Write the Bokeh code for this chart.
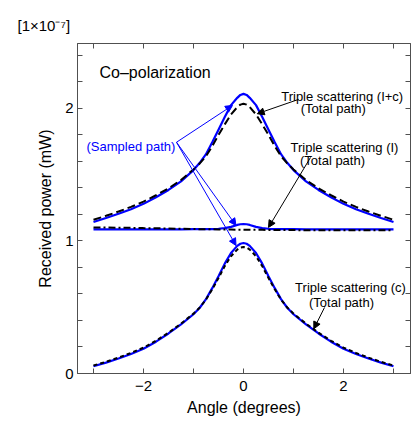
from bokeh.plotting import figure
from bokeh.models import (Range1d, LinearAxis, FixedTicker, Label, Arrow,
                          NormalHead, CustomJSTickFormatter)
from bokeh.embed import file_html
from bokeh.resources import INLINE

# ---- data ----
angle = [-3, -2.75, -2.5, -2.25, -2, -1.75, -1.5, -1.25, -1, -0.875, -0.75,
         -0.625, -0.5, -0.375, -0.25, -0.125, -0.0625, 0, 0.0625, 0.125, 0.25,
         0.375, 0.5, 0.625, 0.75, 0.875, 1, 1.25, 1.5, 1.75, 2, 2.25, 2.5,
         2.75, 3]

# Triple scattering (I+c)
ic_sampled = [1.143, 1.173, 1.205, 1.240, 1.280, 1.330, 1.385, 1.450, 1.535,
              1.590, 1.655, 1.745, 1.840, 1.935, 2.025, 2.080, 2.102, 2.110,
              2.102, 2.080, 2.025, 1.935, 1.840, 1.745, 1.655, 1.590, 1.535,
              1.450, 1.385, 1.330, 1.280, 1.240, 1.205, 1.173, 1.143]
ic_total = [1.160, 1.190, 1.222, 1.257, 1.297, 1.345, 1.397, 1.460, 1.540,
            1.585, 1.640, 1.715, 1.800, 1.880, 1.955, 2.010, 2.029, 2.035,
            2.029, 2.010, 1.955, 1.880, 1.800, 1.715, 1.640, 1.585, 1.540,
            1.460, 1.397, 1.345, 1.297, 1.257, 1.222, 1.190, 1.160]

# Triple scattering (I)
i_sampled = [1.088, 1.088, 1.088, 1.088, 1.088, 1.088, 1.088, 1.088, 1.089,
             1.089, 1.090, 1.090, 1.092, 1.097, 1.106, 1.121, 1.126, 1.128,
             1.126, 1.121, 1.106, 1.097, 1.092, 1.090, 1.090, 1.089, 1.089,
             1.088, 1.088, 1.088, 1.088, 1.088, 1.088, 1.088, 1.088]
i_total = [1.102, 1.101, 1.100, 1.099, 1.097, 1.096, 1.094, 1.092, 1.090,
           1.089, 1.088, 1.088, 1.087, 1.086, 1.086, 1.085, 1.085, 1.085,
           1.085, 1.085, 1.084, 1.084, 1.083, 1.083, 1.083, 1.082, 1.082,
           1.081, 1.081, 1.080, 1.080, 1.080, 1.080, 1.080, 1.080]

# Triple scattering (c)
c_sampled = [0.055, 0.082, 0.113, 0.147, 0.187, 0.240, 0.302, 0.370, 0.447,
             0.496, 0.561, 0.644, 0.733, 0.829, 0.909, 0.963, 0.979, 0.985,
             0.979, 0.963, 0.909, 0.829, 0.733, 0.644, 0.561, 0.496, 0.447,
             0.370, 0.302, 0.240, 0.187, 0.147, 0.113, 0.082, 0.055]
c_total = [0.060, 0.088, 0.120, 0.155, 0.195, 0.247, 0.308, 0.376, 0.452,
           0.498, 0.558, 0.635, 0.720, 0.810, 0.885, 0.935, 0.950, 0.955,
           0.950, 0.935, 0.885, 0.810, 0.720, 0.635, 0.558, 0.498, 0.452,
           0.376, 0.308, 0.247, 0.195, 0.155, 0.120, 0.088, 0.060]

x_major = [-2, 0, 2]
x_minor = [-3, -1, 1, 3]
x_all = [-3, -2, -1, 0, 1, 2, 3]
y_major = [0, 1, 2]
y_minor = [0.2, 0.4, 0.6, 0.8, 1.2, 1.4, 1.6, 1.8, 2.2, 2.4]
y_all = [0, 0.2, 0.4, 0.6, 0.8, 1.0, 1.2, 1.4, 1.6, 1.8, 2.0, 2.2, 2.4]

FONT = "Liberation Sans"
AX = "#505050"
BLUE = "#0000ff"

p = figure(width=414, height=421, output_backend="svg", toolbar_location=None,
           x_range=Range1d(-3.32, 3.34), y_range=Range1d(0, 2.49),
           min_border_left=77, min_border_right=4, min_border_top=43,
           min_border_bottom=48)
p.grid.visible = False
p.outline_line_color = AX
p.background_fill_color = "white"
p.border_fill_color = "white"

p.title.text = "[1\u00d710\u207b\u2077]"
p.title.align = "left"
p.title.offset = -60
p.title.standoff = 20
p.title.text_font = FONT
p.title.text_font_size = "15px"
p.title.text_font_style = "normal"
p.title.text_color = "black"

fmt = CustomJSTickFormatter(code="return tick < 0 ? '\u2212' + Math.abs(tick) : '' + tick;")

bottom_ax = p.below[0]
left_ax = p.left[0]
bottom_ax.ticker = FixedTicker(ticks=x_major, minor_ticks=x_minor)
left_ax.ticker = FixedTicker(ticks=y_major, minor_ticks=y_minor)
bottom_ax.formatter = fmt
left_ax.formatter = fmt
bottom_ax.axis_label = "Angle (degrees)"
left_ax.axis_label = "Received power (mW)"

top_ax = LinearAxis(ticker=FixedTicker(ticks=[], minor_ticks=x_all))
right_ax = LinearAxis(ticker=FixedTicker(ticks=[], minor_ticks=y_all))
p.add_layout(top_ax, "above")
p.add_layout(right_ax, "right")

for ax in [bottom_ax, left_ax, top_ax, right_ax]:
    ax.axis_line_color = AX
    ax.major_tick_line_color = AX
    ax.minor_tick_line_color = AX
    ax.major_tick_in = 5
    ax.major_tick_out = 0
    ax.minor_tick_in = 5
    ax.minor_tick_out = 0
    ax.major_label_text_font = FONT
    ax.major_label_text_font_size = "15px"
    ax.major_label_text_color = "black"
    ax.axis_label_text_font = FONT
    ax.axis_label_text_font_size = "16px"
    ax.axis_label_text_font_style = "normal"
    ax.axis_label_text_color = "black"

bottom_ax.major_label_standoff = 7
bottom_ax.axis_label_standoff = 5
left_ax.major_label_standoff = 4
left_ax.axis_label_standoff = 8

# ---- curves ----
p.line(angle, ic_sampled, line_color=BLUE, line_width=2.2)
p.line(angle, ic_total, line_color="black", line_width=2, line_dash="8 4")
p.line(angle, i_sampled, line_color=BLUE, line_width=2.2)
p.line(angle, i_total, line_color="black", line_width=2, line_dash="7 3 2 3")
p.line(angle, c_sampled, line_color=BLUE, line_width=2.2)
p.line(angle, c_total, line_color="black", line_width=2, line_dash="4 3")

# ---- arrows ----
def arrow(x0, y0, x1, y1, color):
    p.add_layout(Arrow(x_start=x0, y_start=y0, x_end=x1, y_end=y1,
                       line_color=color, line_width=1,
                       end=NormalHead(size=7, fill_color=color, line_color=color)))

arrow(1.10, 2.068, 0.274, 1.960, "black")
arrow(1.34, 1.630, 0.50, 1.102, "black")
arrow(1.62, 0.498, 1.406, 0.337, "black")
arrow(-1.34, 1.745, -0.22, 2.023, BLUE)
arrow(-1.34, 1.745, -0.15, 1.117, BLUE)
arrow(-1.34, 1.745, -0.15, 0.966, BLUE)

# ---- texts ----
def label(x, y, text, size, color="black", align="left"):
    p.add_layout(Label(x=x, y=y, text=text, text_font=FONT,
                       text_font_size=size, text_color=color,
                       text_align=align, text_baseline="alphabetic"))

label(-2.88, 2.272, "Co\u2013polarization", "16px")
label(1.974, 2.09, "Triple scattering (I+c)", "13px", align="center")
label(1.796, 2.00, "(Total path)", "13px", align="center")
label(2.02, 1.706, "Triple scattering (I)", "13px", align="center")
label(1.78, 1.608, "(Total path)", "13px", align="center")
label(2.14, 0.649, "Triple scattering (c)", "13px", align="center")
label(1.96, 0.536, "(Total path)", "13px", align="center")
label(-3.14, 1.713, "(Sampled path)", "13px", color=BLUE)

open("out.html", "w").write(file_html(p, INLINE))
